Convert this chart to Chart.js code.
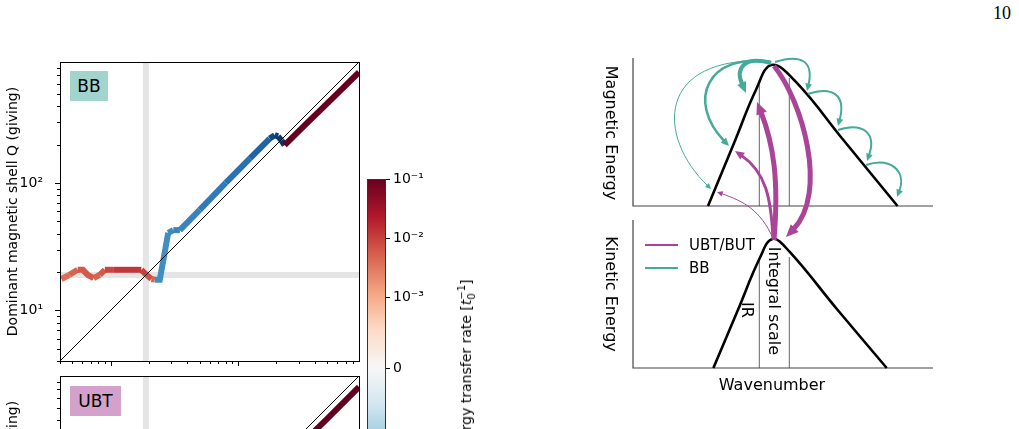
<!DOCTYPE html>
<html>
<head>
<meta charset="utf-8">
<script src="https://cdn.jsdelivr.net/npm/chart.js@4.4.0/dist/chart.umd.min.js"></script>
<style>
html, body { margin: 0; padding: 0; background: #fff; overflow: hidden; width: 1019px; height: 429px; }
body { position: relative; font-family: 'DejaVu Sans', sans-serif; color: #000; }
canvas { position: absolute; }
.txt { position: absolute; white-space: nowrap; line-height: 1; }
.mid { transform: translate(-50%, -50%); }
.cw { transform: translate(-50%, -50%) rotate(90deg); }
.ccw { transform: translate(-50%, -50%) rotate(-90deg); }
.box { position: absolute; display: flex; align-items: center; justify-content: center; font-size: 17px; }
.ss { display: inline-flex; flex-direction: column; font-size: 10px; line-height: 1; vertical-align: middle; }
.key { position: absolute; height: 2px; width: 33px; }
</style>
</head>
<body>
<canvas id="bb" width="365" height="370" style="left:0;top:0"></canvas>
<canvas id="ubt" width="365" height="330" style="left:0;top:370px"></canvas>
<canvas id="cbar" width="160" height="400" style="left:360px;top:170px"></canvas>
<canvas id="sketch" width="350" height="350" style="left:600px;top:40px"></canvas>

<div class="box" style="left:70px;top:71px;width:38px;height:30px;background:#a1d4cc">BB</div>
<div class="box" style="left:70px;top:386px;width:51px;height:30px;background:#d4a1cc">UBT</div>

<div class="txt ccw" style="left:467px;top:368px;font-size:14px">Energy transfer rate [<i>t</i><span class="ss"><span>&minus;1</span><span>0</span></span>]</div>

<div class="txt cw" style="left:611px;top:133px;font-size:16px">Magnetic Energy</div>
<div class="txt cw" style="left:611px;top:294px;font-size:16px">Kinetic Energy</div>
<div class="txt mid" style="left:772px;top:385px;font-size:16px">Wavenumber</div>
<div class="txt cw" style="left:747px;top:310px;font-size:16px">IR</div>
<div class="txt cw" style="left:774px;top:301px;font-size:16px">Integral scale</div>

<div class="key" style="left:645px;top:244px;background:#AA4499"></div>
<div class="key" style="left:645px;top:267px;background:#44AA99"></div>
<div class="txt" style="left:689px;top:245px;font-size:15px;transform:translateY(-50%)">UBT/BUT</div>
<div class="txt" style="left:689px;top:268px;font-size:15px;transform:translateY(-50%)">BB</div>

<div class="txt" style="left:993px;top:4px;font-family:'Liberation Serif', serif;font-size:18px">10</div>

<script>
// ---- left panels: dominant giving shell Q against receiving shell K ----
const bbK = [4.1, 4.75, 5.5, 6.05, 6.6, 7.35, 8.2, 9.0, 10.6, 12.5, 14.6, 17.4, 19.1, 20.9, 22.2, 24.3, 28.3, 31, 34.9, 50, 80, 124, 177, 194, 206, 219, 232, 330, 470, 650, 891];
const bbQ = [17.6, 19, 20.8, 20.8, 19, 17.9, 19, 20.8, 20.8, 20.8, 20.8, 20.8, 19, 17.6, 17.4, 17.4, 40.6, 42.6, 42.6, 61.5, 100, 156, 223, 237, 232, 216, 198, 280, 395, 543, 740];
const bbRate = [4e-3, 5e-3, 6e-3, 6e-3, 6e-3, 5e-3, 6e-3, 9e-3, 1.2e-2, 1.2e-2, 1.2e-2, 1e-2, 7e-3, 5e-3, -6e-3, -6e-3, -7e-3, -8e-3, -9e-3, -1.2e-2, -1.6e-2, -2.5e-2, -5e-2, -7e-2, -8e-2, -9e-2, 0.1, 0.1, 0.1, 0.1, 0.1];

const ubtK = [350, 500, 650, 891];
const ubtQ = [290, 410, 533, 730];
const ubtRate = [0.1, 0.1, 0.1, 0.1];

const axisMin = 4, axisMax = 890;
const bandK = 18.9, bandQ = 18.9;   // integral scale shell
const qLabelTicks = [10, 100];
const qLabels = ['10\u00b9', '10\u00b2'];

// ---- colour bar ----
const cbarStops = ['#053061', '#2166ac', '#4393c3', '#92c5de', '#d1e5f0', '#f7f7f7', '#fddbc7', '#f4a582', '#d6604d', '#b2182b', '#67001f'];
const cbarTicks = [0.1, 0.01, 0.001, 0, -0.001, -0.01, -0.1];
const cbarLabels = ['10\u207b\u00b9', '10\u207b\u00b2', '10\u207b\u00b3', '0', '\u221210\u207b\u00b3', '\u221210\u207b\u00b2', '\u221210\u207b\u00b9'];
const linThresh = 1e-3, linScale = 1.2;

// ---- right sketch (wavenumber units, energy normalised to axis height) ----
const magAxisX = [0, 0, 10], magAxisY = [1, 0, 0];
const kinAxisX = [0, 0, 10], kinAxisY = [1, 0, 0];
const magCurveX = [2.5, 3.41, 4.097, 4.617, 5.43, 7.013, 8.817];
const magCurveY = [0, 0.446, 0.784, 0.953, 0.838, 0.446, 0];
const kinCurveX = [2.68, 3.497, 4.227, 4.65, 5.217, 6.823, 8.457];
const kinCurveY = [0, 0.392, 0.743, 0.872, 0.786, 0.392, 0];
const scaleLinesX = [4.21, 5.21];
const magScaleTop = [0.82, 0.865];
const kinScaleTop = [0.74, 0.75];

// arrows: [width, p0, c1, c2, tip], each point [wavenumber, energy, panel axis]
const bbArrows = [
    [4,   [4.6, 0.966, 'yM'], [3.733, 1.014, 'yM'], [3.5, 0.885, 'yM'], [3.767, 0.764, 'yM']],
    [2.5, [4.6, 0.973, 'yM'], [2.5, 1.04, 'yM'], [1.9, 0.682, 'yM'], [3.2, 0.405, 'yM']],
    [1,   [4.567, 0.98, 'yM'], [0.733, 1.02, 'yM'], [0.9, 0.446, 'yM'], [2.6, 0.115, 'yM']],
    [2,   [4.733, 0.973, 'yM'], [5.567, 1.027, 'yM'], [6.0, 0.946, 'yM'], [5.8, 0.777, 'yM']],
    [2,   [5.833, 0.757, 'yM'], [6.633, 0.811, 'yM'], [7.067, 0.716, 'yM'], [6.833, 0.541, 'yM']],
    [2,   [6.833, 0.514, 'yM'], [7.633, 0.568, 'yM'], [8.067, 0.459, 'yM'], [7.8, 0.304, 'yM']],
    [2,   [7.767, 0.277, 'yM'], [8.567, 0.331, 'yM'], [9.067, 0.203, 'yM'], [8.8, 0.061, 'yM']]
];
const ubtArrows = [
    [5, [4.7, 0.865, 'yK'], [4.867, 1.27, 'yK'], [4.567, 0.48, 'yM'], [4.133, 0.703, 'yM']],
    [5, [4.7, 0.946, 'yM'], [5.633, 0.716, 'yM'], [6.3, 0.041, 'yM'], [5.1, 0.885, 'yK']],
    [3, [4.667, 0.878, 'yK'], [4.6, 1.149, 'yK'], [4.233, 1.351, 'yK'], [3.4, 1.466, 'yK']],
    [1, [4.667, 0.878, 'yK'], [4.233, 1.068, 'yK'], [3.567, 1.135, 'yK'], [2.8, 1.189, 'yK']]
];
const bbColor = '#44AA99';
const ubtColor = '#AA4499';

Chart.defaults.font.family = "'DejaVu Sans', sans-serif";
Chart.defaults.color = '#000';

function symlog(v) {
    const a = Math.abs(v);
    const s = a <= linThresh ? linScale * a / linThresh : linScale + Math.log10(a / linThresh);
    return Math.sign(v) * s;
}
const symMax = symlog(0.1);

function hexRgb(h) {
    return [parseInt(h.slice(1, 3), 16), parseInt(h.slice(3, 5), 16), parseInt(h.slice(5, 7), 16)];
}
function rateColor(v) {
    const n = Math.min(1, Math.max(0, 0.5 + 0.5 * symlog(v) / symMax));
    const f = n * (cbarStops.length - 1);
    const i = Math.min(cbarStops.length - 2, Math.floor(f));
    const t = f - i;
    const a = hexRgb(cbarStops[i]), b = hexRgb(cbarStops[i + 1]);
    const c = a.map((x, j) => Math.round(x + (b[j] - x) * t));
    return `rgb(${c[0]},${c[1]},${c[2]})`;
}

// frame + outward tick marks, like matplotlib spines
const tickMarks = {
    id: 'tickMarks',
    afterDraw(chart, args, opts) {
        const {ctx, chartArea: a, scales} = chart;
        ctx.save();
        ctx.strokeStyle = '#000';
        ctx.lineWidth = 1;
        ctx.strokeRect(a.left + 0.5, a.top + 0.5, a.right - a.left, a.bottom - a.top);
        ctx.beginPath();
        [1, 10, 100].forEach(d => {
            for (let m = 1; m <= 9; m++) {
                const v = d * m;
                const len = m === 1 ? 5 : 3;
                const y = Math.round(scales.y.getPixelForValue(v)) + 0.5;
                if (y >= a.top && y <= a.bottom + 1) {
                    ctx.moveTo(a.left - len, y);
                    ctx.lineTo(a.left, y);
                }
                if (opts.bottom) {
                    const x = Math.round(scales.x.getPixelForValue(v)) + 0.5;
                    if (x >= a.left && x <= a.right + 1) {
                        ctx.moveTo(x, a.bottom);
                        ctx.lineTo(x, a.bottom + len);
                    }
                }
            }
        });
        ctx.stroke();
        ctx.restore();
    }
};

function logPanel(id, K, Q, rate, padTop, padBottom, bottomTicks) {
    const pts = K.map((k, i) => ({x: k, y: Q[i]}));
    new Chart(document.getElementById(id), {
        type: 'scatter',
        data: {
            datasets: [
                { data: [{x: 3.5, y: 3.5}, {x: 1000, y: 1000}], showLine: true, borderColor: '#000', borderWidth: 1, pointRadius: 0, clip: 0 },
                { data: pts, showLine: true, borderWidth: 6, borderColor: rateColor(rate[0]), borderJoinStyle: 'miter',
                  segment: { borderColor: c => rateColor(rate[c.p0DataIndex]) },
                  pointRadius: 0, clip: 0 },
                { data: [{x: bandK, y: 1}, {x: bandK, y: 2000}], showLine: true, borderColor: '#e5e5e5', borderWidth: 6, pointRadius: 0, clip: 0 },
                { data: [{x: 1, y: bandQ}, {x: 2000, y: bandQ}], showLine: true, borderColor: '#e5e5e5', borderWidth: 6, pointRadius: 0, clip: 0 }
            ]
        },
        options: {
            responsive: false,
            animation: false,
            events: [],
            layout: { padding: { top: padTop, right: 6, bottom: padBottom, left: 0 } },
            plugins: {
                legend: { display: false },
                tooltip: { enabled: false },
                tickMarks: { bottom: bottomTicks }
            },
            scales: {
                x: { type: 'logarithmic', display: false, min: axisMin, max: axisMax, bounds: 'data' },
                y: {
                    type: 'logarithmic', min: axisMin, max: axisMax, bounds: 'data',
                    grid: { display: false },
                    border: { display: false },
                    afterBuildTicks: s => { s.ticks = qLabelTicks.map(v => ({value: v})); },
                    afterFit: s => { s.width = 60; s.paddingTop = 0; s.paddingBottom = 0; },
                    ticks: { callback: v => qLabels[qLabelTicks.indexOf(v)], padding: 9, font: { size: 14 }, color: '#000', autoSkip: false, maxRotation: 0 },
                    title: { display: true, text: 'Dominant magnetic shell Q (giving)', font: { size: 14 }, color: '#000', padding: { top: 5, bottom: 0 } }
                }
            }
        },
        plugins: [tickMarks]
    });
}

logPanel('bb', bbK, bbQ, bbRate, 62, 9, true);
logPanel('ubt', ubtK, ubtQ, ubtRate, 6, 25, true);

// colour bar
const cbarFrame = {
    id: 'cbarFrame',
    afterDraw(chart) {
        const {ctx, chartArea: a} = chart;
        ctx.save();
        ctx.strokeStyle = '#333';
        ctx.lineWidth = 1;
        ctx.strokeRect(a.left + 0.5, a.top + 0.5, a.right - a.left - 1, a.bottom - a.top);
        ctx.restore();
    }
};
new Chart(document.getElementById('cbar'), {
    type: 'bar',
    data: {
        labels: [''],
        datasets: [{
            data: [[-symMax, symMax]],
            barPercentage: 1,
            categoryPercentage: 1,
            borderWidth: 0,
            backgroundColor: c => {
                const chart = c.chart;
                if (!chart.chartArea) return cbarStops[5];
                const y = chart.scales.y;
                const g = chart.ctx.createLinearGradient(0, y.getPixelForValue(-symMax), 0, y.getPixelForValue(symMax));
                cbarStops.forEach((col, i) => g.addColorStop(i / (cbarStops.length - 1), col));
                return g;
            }
        }]
    },
    options: {
        responsive: false,
        animation: false,
        events: [],
        layout: { padding: { left: 7, top: 9, bottom: 13, right: 0 } },
        plugins: { legend: { display: false }, tooltip: { enabled: false } },
        scales: {
            x: { display: false },
            y: {
                position: 'right', min: -symMax, max: symMax, bounds: 'data',
                afterBuildTicks: s => { s.ticks = cbarTicks.map(v => ({value: symlog(v)})); },
                afterFit: s => { s.width = 134; s.paddingTop = 0; s.paddingBottom = 0; },
                grid: { drawOnChartArea: false, tickLength: 4, color: '#000', lineWidth: 1 },
                border: { display: false },
                ticks: { callback: (v, i) => cbarLabels[i], padding: 3, font: { size: 14 }, color: '#000', autoSkip: false }
            }
        }
    },
    plugins: [cbarFrame]
});

// right sketch
function line(xs, ys, axis, color, width, tension) {
    return {
        data: xs.map((x, i) => ({x: x, y: ys[i]})),
        yAxisID: axis, showLine: true, borderColor: color, borderWidth: width,
        pointRadius: 0, tension: tension, borderCapStyle: 'butt'
    };
}
const arrowPlugin = {
    id: 'arrows',
    afterDatasetsDraw(chart) {
        const {ctx, scales} = chart;
        const toPx = p => [scales.x.getPixelForValue(p[0]), scales[p[2]].getPixelForValue(p[1])];
        const draw = (list, color) => list.forEach(a => {
            const w = a[0];
            const [p0, p1, p2, p3] = a.slice(1).map(toPx);
            const dx = p3[0] - p2[0], dy = p3[1] - p2[1];
            const d = Math.hypot(dx, dy) || 1;
            const ux = dx / d, uy = dy / d;
            const L = 4 + 1.7 * w, H = 2 + 0.7 * w;
            const ex = p3[0] - ux * L * 0.8, ey = p3[1] - uy * L * 0.8;
            const sx = ex - p3[0], sy = ey - p3[1];
            ctx.save();
            ctx.strokeStyle = color;
            ctx.fillStyle = color;
            ctx.lineWidth = w;
            ctx.beginPath();
            ctx.moveTo(p0[0], p0[1]);
            ctx.bezierCurveTo(p1[0], p1[1], p2[0] + sx, p2[1] + sy, ex, ey);
            ctx.stroke();
            const bx = p3[0] - ux * L, by = p3[1] - uy * L;
            ctx.beginPath();
            ctx.moveTo(p3[0], p3[1]);
            ctx.lineTo(bx - uy * H, by + ux * H);
            ctx.lineTo(bx + uy * H, by - ux * H);
            ctx.closePath();
            ctx.fill();
            ctx.restore();
        });
        draw(bbArrows, bbColor);
        draw(ubtArrows, ubtColor);
    }
};

const axisGray = '#444', lineGray = '#666';
new Chart(document.getElementById('sketch'), {
    type: 'scatter',
    data: {
        datasets: [
            line(magCurveX, magCurveY, 'yM', '#000', 2.6, 0.4),
            line(kinCurveX, kinCurveY, 'yK', '#000', 2.6, 0.4),
            line(magAxisX, magAxisY, 'yM', axisGray, 1.2, 0),
            line(kinAxisX, kinAxisY, 'yK', axisGray, 1.2, 0),
            line([scaleLinesX[0], scaleLinesX[0]], [0, magScaleTop[0]], 'yM', lineGray, 1, 0),
            line([scaleLinesX[1], scaleLinesX[1]], [0, magScaleTop[1]], 'yM', lineGray, 1, 0),
            line([scaleLinesX[0], scaleLinesX[0]], [0, kinScaleTop[0]], 'yK', lineGray, 1, 0),
            line([scaleLinesX[1], scaleLinesX[1]], [0, kinScaleTop[1]], 'yK', lineGray, 1, 0)
        ]
    },
    options: {
        responsive: false,
        animation: false,
        events: [],
        layout: { padding: 0 },
        plugins: { legend: { display: false }, tooltip: { enabled: false } },
        scales: {
            x: { type: 'linear', display: false, min: -1.1, max: 10.5667 },
            yM: { type: 'linear', display: false, min: -1.2432, max: 1.1216 },
            yK: { type: 'linear', display: false, min: -0.1486, max: 2.2162 }
        }
    },
    plugins: [arrowPlugin]
});
</script>
</body>
</html>
